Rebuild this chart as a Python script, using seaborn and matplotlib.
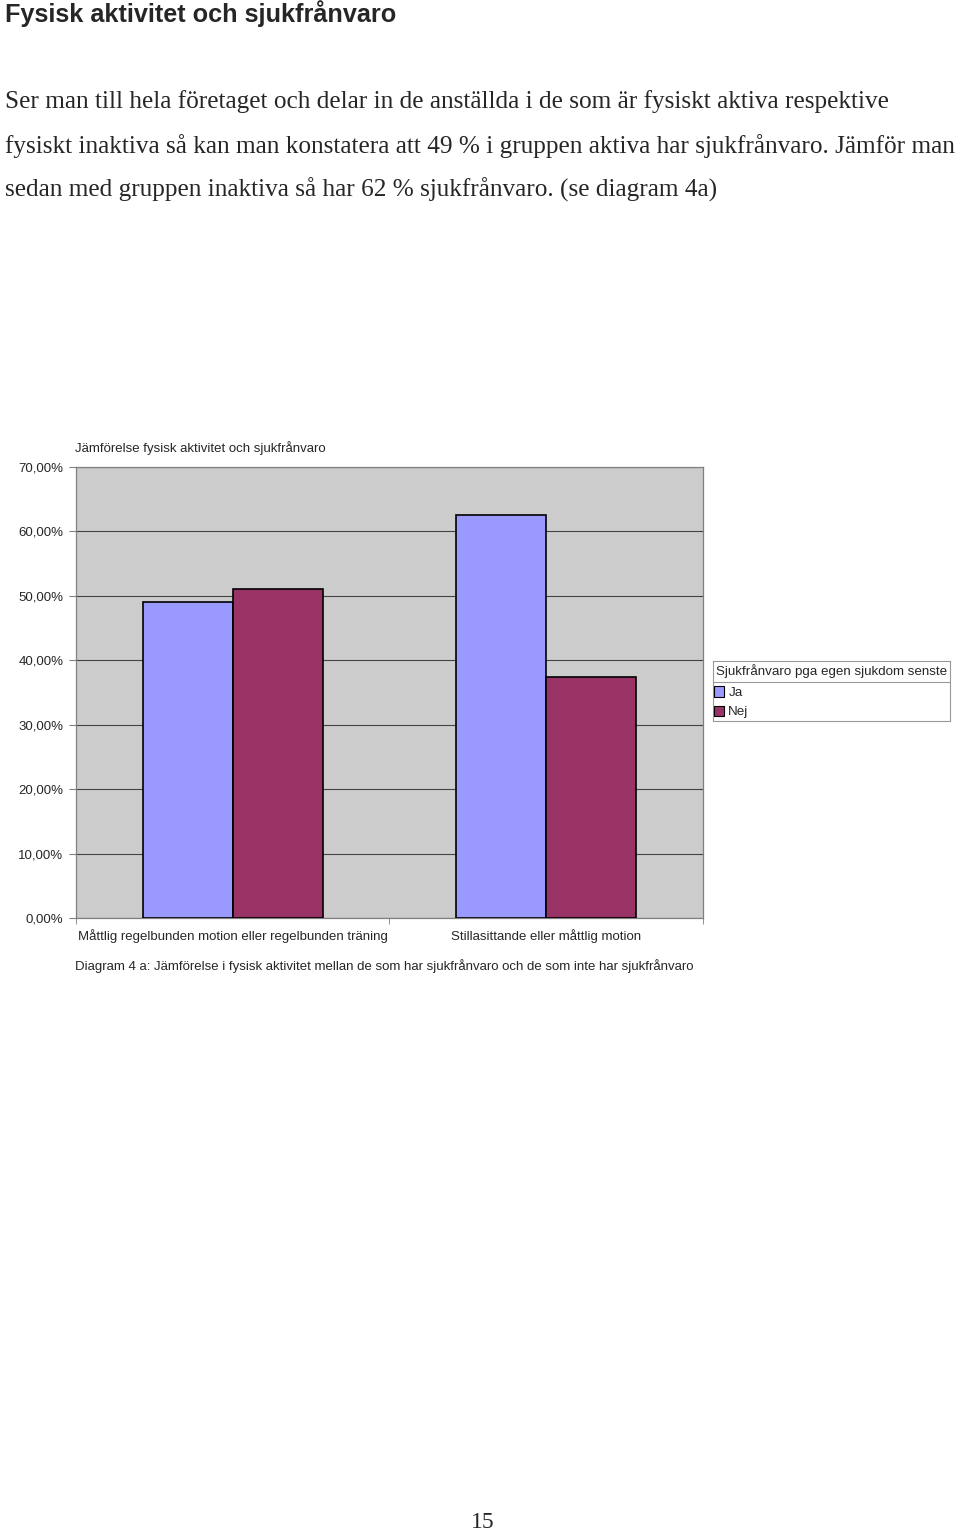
import numpy as np
import pandas as pd
import matplotlib
matplotlib.use('Agg')
import matplotlib.pyplot as plt
import seaborn as sns
from matplotlib.patches import Patch

categories = ['Måttlig regelbunden motion eller regelbunden träning',
              'Stillasittande eller måttlig motion']
ja_values = [49.0, 62.6]
nej_values = [51.0, 37.4]
series_names = ['Ja', 'Nej']
y_ticks = [0, 10, 20, 30, 40, 50, 60, 70]
y_tick_labels = ['0,00%', '10,00%', '20,00%', '30,00%', '40,00%', '50,00%', '60,00%', '70,00%']

df = pd.DataFrame({
    'kategori': categories * 2,
    'serie': [series_names[0]] * 2 + [series_names[1]] * 2,
    'andel': ja_values + nej_values,
})

sns.set_style('white')
plt.rcParams['font.family'] = ['Liberation Sans', 'DejaVu Sans']

W, H = 960, 1534
fig = plt.figure(figsize=(W / 100, H / 100), dpi=100)

def fx(px):
    return px / W

def fy(py):
    return 1 - py / H

# page text
fig.text(fx(5), fy(14), 'Fysisk aktivitet och sjukfrånvaro', fontsize=18.2, fontweight='bold',
         va='center', ha='left')
body = ['Ser man till hela företaget och delar in de anställda i de som är fysiskt aktiva respektive',
        'fysiskt inaktiva så kan man konstatera att 49 % i gruppen aktiva har sjukfrånvaro. Jämför man',
        'sedan med gruppen inaktiva så har 62 % sjukfrånvaro. (se diagram 4a)']
for i, line in enumerate(body):
    fig.text(fx(5), fy(102 + 44 * i), line, fontsize=18.2, family='Liberation Serif',
             va='center', ha='left')
fig.text(fx(483), fy(1522), '15', fontsize=17, family='Liberation Serif', va='center', ha='center')

# chart
ax = fig.add_axes([fx(76), fy(918), fx(703) - fx(76), fy(467) - fy(918)])
colors = {'Ja': '#9999FF', 'Nej': '#993366'}
sns.barplot(data=df, x='kategori', y='andel', hue='serie', palette=colors, width=0.574,
            edgecolor='black', linewidth=1.2, saturation=1, ax=ax, legend=False, zorder=3)
ax.set_facecolor('#CCCCCC')
ax.set_xlim(-0.5, 1.5)
ax.set_ylim(0, 70)
ax.set_yticks(y_ticks)
ax.set_yticklabels(y_tick_labels, fontsize=9.5)
ax.yaxis.grid(True, color='#444444', linewidth=0.8, zorder=0)
ax.set_axisbelow(True)
ax.tick_params(axis='y', length=5, width=0.8, color='#808080', pad=4, left=True)
ax.set_xticks([0, 1])
ax.set_xticklabels(categories, fontsize=9.5)
ax.tick_params(axis='x', length=0, pad=8)
ax.set_xticks([-0.5, 0.5, 1.5], minor=True)
ax.tick_params(axis='x', which='minor', length=4, color='#808080', bottom=True)
ax.set_xlabel('')
ax.set_ylabel('')
for s in ax.spines.values():
    s.set_color('#808080')
    s.set_linewidth(0.9)

fig.text(fx(75), fy(448), 'Jämförelse fysisk aktivitet och sjukfrånvaro', fontsize=9.5,
         va='center', ha='left')
fig.text(fx(75), fy(966), 'Diagram 4 a: Jämförelse i fysisk aktivitet mellan de som har sjukfrånvaro '
         'och de som inte har sjukfrånvaro', fontsize=9.5, va='center', ha='left')

# legend box
lax = fig.add_axes([fx(713), fy(721), fx(950) - fx(713), fy(661) - fy(721)])
lax.set_xlim(0, 1)
lax.set_ylim(0, 1)
lax.set_xticks([])
lax.set_yticks([])
for s in lax.spines.values():
    s.set_color('#999999')
    s.set_linewidth(0.8)
lax.axhline(1 - 21 / 60, color='#999999', linewidth=0.8)
lax.text(0.012, 1 - 10 / 60, 'Sjukfrånvaro pga egen sjukdom senste år', fontsize=9.6,
         va='center', ha='left', clip_on=True)
handles = [Patch(facecolor=colors[n], edgecolor='black', linewidth=0.8) for n in series_names]
lax.legend(handles, series_names, loc='upper left', bbox_to_anchor=(-0.02, 1 - 20 / 60),
           frameon=False, fontsize=9.6, handlelength=0.8, handleheight=0.8,
           handletextpad=0.3, labelspacing=0.5, borderaxespad=0)

fig.savefig('out.png', dpi=100, facecolor='white')
